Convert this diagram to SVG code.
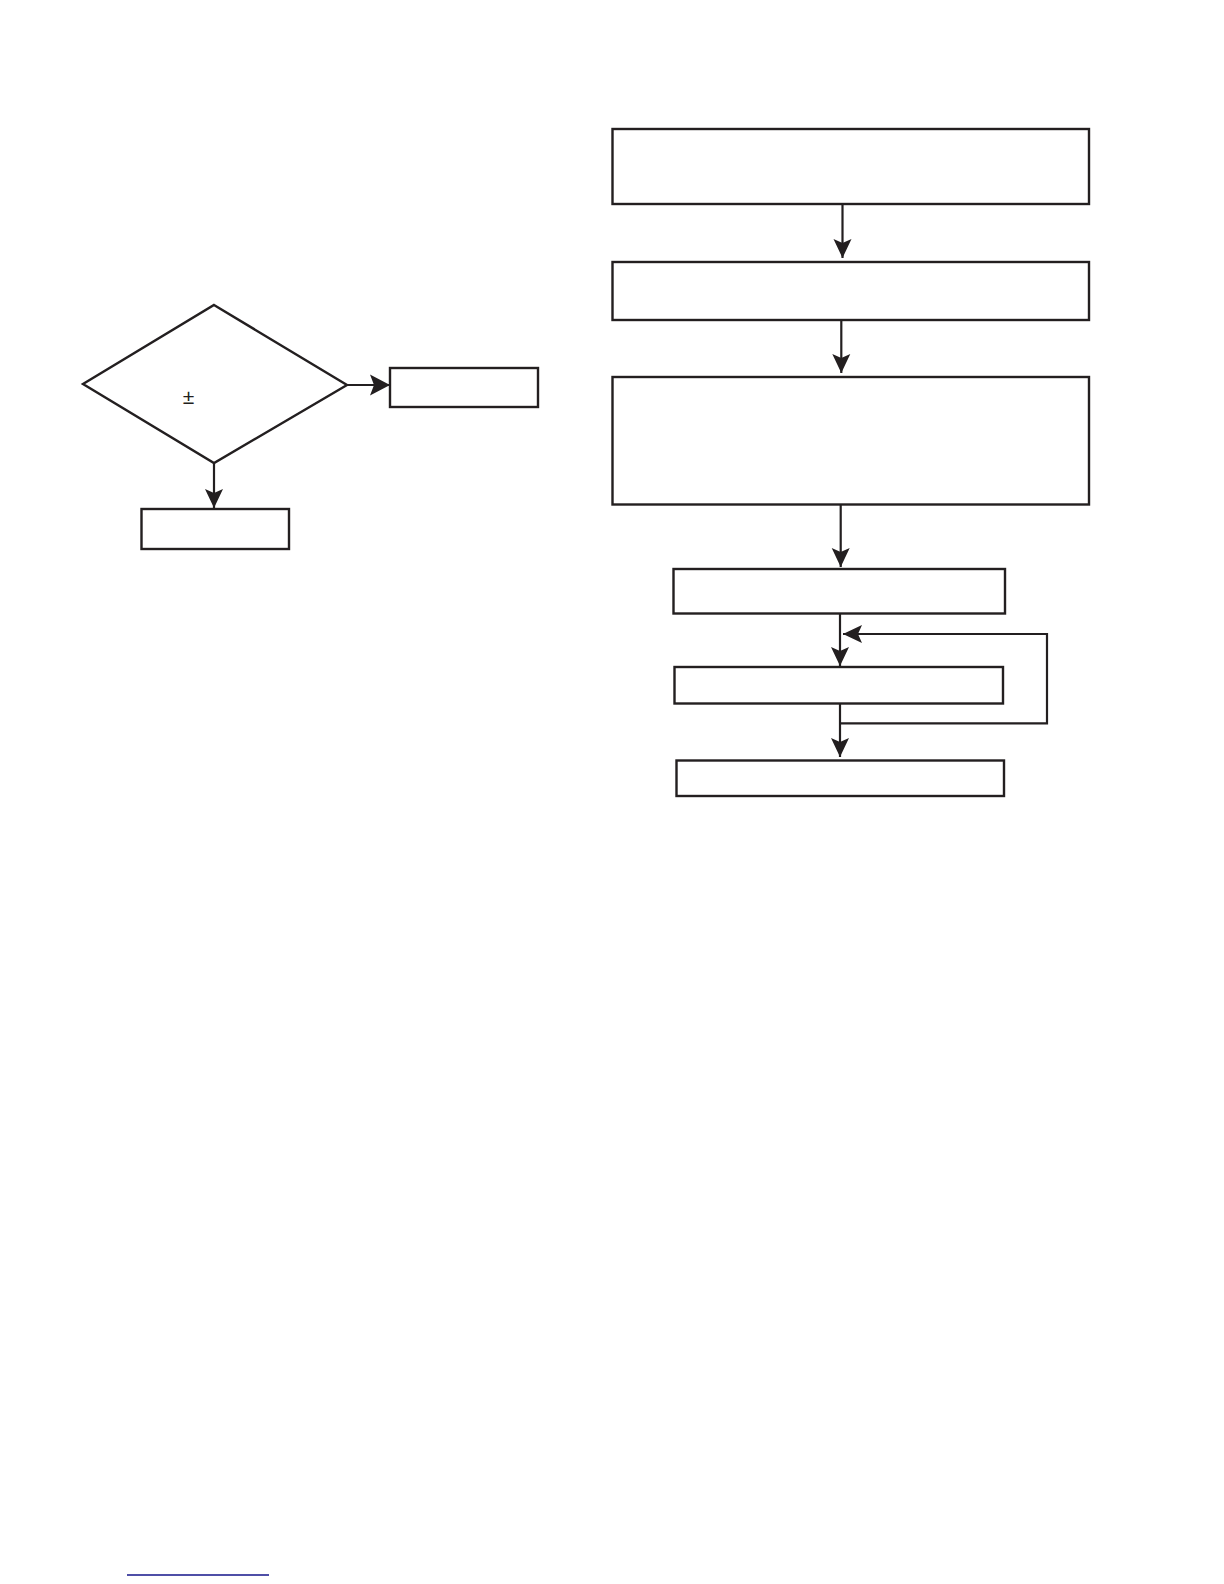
<svg xmlns="http://www.w3.org/2000/svg" width="1224" height="1584" viewBox="0 0 1224 1584">
<style>
.box{fill:#fff;stroke:#231f20;stroke-width:2.4}
.ln{fill:none;stroke:#231f20;stroke-width:2.2}
.t{font-family:"Liberation Sans",Arial,sans-serif;font-size:21px;fill:#231f20}
</style>
<defs>
<marker id="ah" viewBox="-20 -10 20 20" refX="0" refY="0" markerWidth="20" markerHeight="20" markerUnits="userSpaceOnUse" orient="auto">
<path d="M0,0 L-19,-9 L-15,0 L-19,9 Z" fill="#231f20"/>
</marker>
<marker id="ahL" viewBox="-22 -11 22 22" refX="0" refY="0" markerWidth="22" markerHeight="22" markerUnits="userSpaceOnUse" orient="auto">
<path d="M0,0 L-20,-10.5 L-16,0 L-20,10.5 Z" fill="#231f20"/>
</marker>
</defs>
<rect width="1224" height="1584" fill="#fff"/>
<g id="decision">
<polygon class="box" points="214,305 347,385 214,463 83,384"/>
<text class="t" x="188.5" y="404" text-anchor="middle">±</text>
</g>
<g id="left-right-box"><rect class="box" x="390" y="368" width="148" height="39"/></g>
<g id="left-bottom-box"><rect class="box" x="141.5" y="509" width="147.5" height="40"/></g>
<g id="box1"><rect class="box" x="612.5" y="129" width="476.5" height="75"/></g>
<g id="box2"><rect class="box" x="612.5" y="262" width="476.5" height="58"/></g>
<g id="box3"><rect class="box" x="612.5" y="377" width="476.5" height="127.5"/></g>
<g id="box4"><rect class="box" x="673.5" y="569" width="331.5" height="44.5"/></g>
<g id="box5"><rect class="box" x="674.5" y="667" width="328.5" height="36.5"/></g>
<g id="box6"><rect class="box" x="676.5" y="760.5" width="327.5" height="35.5"/></g>
<g id="connectors">
<line class="ln" x1="347" y1="385" x2="390" y2="385" marker-end="url(#ahL)"/>
<line class="ln" x1="214" y1="463" x2="214" y2="508" marker-end="url(#ah)"/>
<line class="ln" x1="842.5" y1="204" x2="842.5" y2="258" marker-end="url(#ah)"/>
<line class="ln" x1="841.3" y1="320" x2="841.3" y2="373" marker-end="url(#ah)"/>
<line class="ln" x1="840.7" y1="504.5" x2="840.7" y2="567" marker-end="url(#ah)"/>
<line class="ln" x1="840" y1="613.5" x2="840" y2="666" marker-end="url(#ah)"/>
<line class="ln" x1="840" y1="703.5" x2="840" y2="757" marker-end="url(#ah)"/>
<polyline class="ln" points="840,723.3 1047,723.3 1047,634 843,634" marker-end="url(#ah)"/>
</g>
<line x1="127" y1="1575" x2="269" y2="1575" stroke="#14148a" stroke-width="1.6"/>
</svg>
